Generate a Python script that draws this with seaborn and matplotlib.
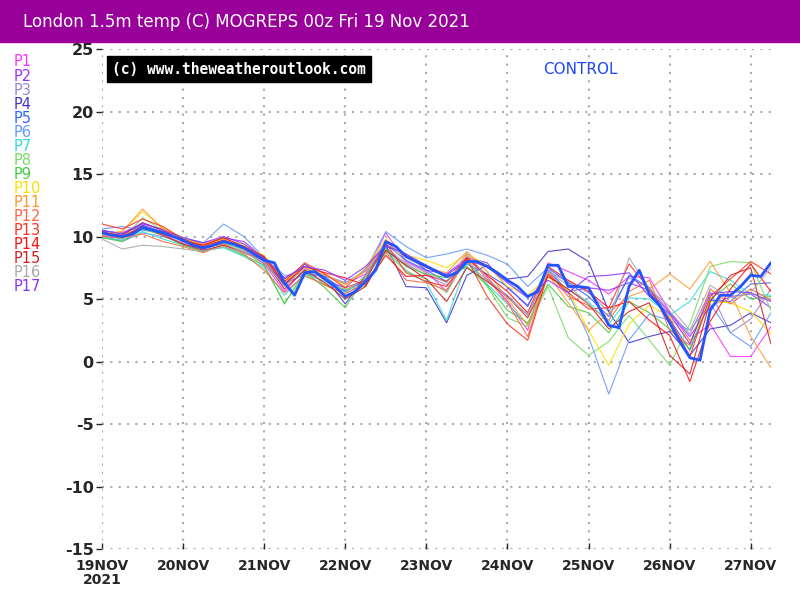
import numpy as np
import pandas as pd
import matplotlib
matplotlib.use("Agg")
import matplotlib.pyplot as plt
import seaborn as sns

# =========================
# DATA (deg C, hours from 19 Nov 00z)
# =========================
member_hours = list(range(0, 199, 6))
control_hours = list(range(0, 199, 3))

day_ticks = [0, 24, 48, 72, 96, 120, 144, 168, 192]
day_labels = ["19NOV\n2021", "20NOV", "21NOV", "22NOV", "23NOV",
              "24NOV", "25NOV", "26NOV", "27NOV"]
y_ticks = [-15, -10, -5, 0, 5, 10, 15, 20, 25]

members = ["P1", "P2", "P3", "P4", "P5", "P6", "P7", "P8", "P9",
           "P10", "P11", "P12", "P13", "P14", "P15", "P16", "P17"]
member_colors = ["#ff33ff", "#9a33ff", "#9988cc", "#4433cc", "#3366ff",
                 "#6699ff", "#33dddd", "#77dd66", "#44cc44", "#ffdd00",
                 "#ff9933", "#ff6644", "#ff3322", "#ff1111", "#cc2222",
                 "#aaaaaa", "#8833ff"]

p1 = [10.1, 9.8, 10.9, 10.2, 9.4, 9.0, 9.8, 8.9, 7.8, 5.6, 7.4, 6.9, 6.2, 7.0, 10.3, 8.0, 7.2, 5.6,
      8.2, 6.8, 4.8, 2.5, 7.9, 7.2, 6.5, 5.4, 6.8, 6.7, 4.0, 1.7, 3.0, 0.4, 0.4, 2.8]
p2 = [10.4, 10.3, 11.0, 10.6, 9.9, 9.4, 9.9, 9.6, 8.3, 6.6, 7.6, 6.5, 5.9, 7.4, 9.2, 8.6, 7.3, 7.0,
      8.3, 7.9, 5.9, 4.5, 7.3, 5.6, 5.9, 5.7, 6.3, 5.7, 3.9, 2.0, 4.4, 5.2, 5.4, 4.3]
p3 = [10.0, 9.6, 10.3, 10.0, 9.5, 9.2, 9.4, 8.8, 7.9, 6.0, 7.6, 6.1, 5.7, 6.6, 9.1, 7.8, 6.9, 6.1,
      7.9, 6.5, 5.3, 3.7, 7.2, 6.4, 5.5, 4.0, 6.7, 5.9, 4.0, 2.2, 5.6, 2.3, 3.4, 5.8]
p4 = [10.2, 9.9, 10.8, 10.3, 9.8, 9.3, 9.7, 9.2, 8.2, 6.1, 7.8, 6.7, 4.6, 6.9, 9.3, 6.0, 5.9, 3.1,
      6.9, 7.7, 6.6, 6.8, 8.8, 9.0, 8.0, 4.0, 1.5, 2.0, 2.4, 0.5, 2.6, 2.9, 3.9, 3.1]
p5 = [10.5, 10.2, 10.9, 10.4, 9.6, 9.0, 9.5, 9.0, 8.0, 6.2, 7.0, 6.8, 5.6, 6.5, 9.4, 8.1, 7.3, 6.4,
      7.8, 7.0, 6.0, 4.4, 7.5, 6.3, 5.2, 3.6, 6.9, 5.9, 3.4, 0.9, 4.9, 4.8, 6.2, 6.3]
p6 = [10.6, 10.8, 10.5, 10.3, 9.9, 9.5, 11.0, 10.0, 8.3, 6.9, 7.0, 6.9, 6.3, 7.3, 10.4, 9.2, 8.3, 8.6,
      9.0, 8.5, 7.8, 6.0, 7.5, 5.5, 2.0, -2.6, 1.7, 3.8, 3.3, 2.5, 4.6, 2.3, 1.2, 3.9]
p7 = [10.0, 9.7, 10.4, 9.8, 9.3, 8.9, 9.1, 8.4, 7.5, 5.3, 7.0, 6.4, 5.5, 6.2, 8.9, 7.3, 6.3, 3.3,
      7.9, 6.2, 4.6, 3.0, 7.0, 5.7, 4.8, 3.0, 5.1, 5.0, 3.7, 4.8, 7.2, 6.5, 5.4, 5.3]
p8 = [10.2, 9.8, 11.5, 10.5, 9.7, 9.1, 9.5, 8.9, 7.6, 4.7, 6.8, 6.2, 5.8, 6.0, 8.7, 7.2, 6.6, 5.5,
      8.3, 6.0, 3.5, 2.8, 6.0, 1.9, 0.5, 1.6, 3.7, 1.7, -0.3, 3.0, 7.6, 8.0, 7.9, 4.1]
p9 = [9.9, 9.6, 10.6, 10.1, 9.3, 8.8, 9.2, 8.5, 7.7, 4.6, 7.2, 5.9, 4.3, 6.8, 9.0, 7.6, 7.0, 6.7,
      7.6, 6.1, 4.1, 3.1, 6.2, 4.4, 3.9, 2.3, 4.8, 3.9, 2.6, 1.0, 5.0, 6.2, 5.0, 5.2]
p10 = [10.2, 10.4, 12.0, 10.7, 9.9, 9.3, 9.8, 9.3, 8.5, 6.5, 7.5, 7.0, 6.0, 7.5, 9.8, 8.5, 8.1, 7.5,
       8.6, 7.7, 6.0, 5.3, 6.8, 5.7, 2.5, -0.3, 3.0, 4.5, 3.6, 1.6, 4.8, 4.7, 4.0, 2.2]
p11 = [10.1, 10.4, 12.2, 10.6, 9.7, 9.4, 9.9, 9.0, 8.1, 6.4, 7.3, 6.9, 6.2, 7.2, 9.6, 8.3, 7.5, 7.1,
       8.8, 7.2, 5.0, 2.9, 7.0, 4.7, 2.5, 3.9, 5.2, 5.8, 7.0, 5.8, 8.0, 5.5, 2.0, -0.5]
p12 = [10.0, 9.9, 10.2, 9.6, 9.2, 8.7, 9.4, 8.6, 7.3, 5.5, 6.9, 6.1, 5.4, 6.3, 8.8, 6.5, 6.3, 5.7,
       8.5, 6.6, 4.7, 2.0, 7.2, 5.2, 4.5, 3.3, 5.6, 6.5, 2.5, 1.3, 5.8, 4.6, 5.8, 4.9]
p13 = [11.0, 10.6, 11.4, 10.8, 9.8, 9.2, 9.7, 9.1, 8.3, 6.4, 7.9, 7.0, 5.9, 6.5, 9.5, 7.1, 6.4, 6.0,
       8.2, 5.2, 3.0, 1.7, 7.0, 5.5, 4.2, 4.3, 7.8, 5.8, 3.4, 0.4, 5.2, 6.6, 8.0, 7.0]
p14 = [10.3, 10.1, 11.1, 10.5, 9.6, 9.3, 9.9, 9.2, 8.4, 6.2, 7.6, 7.1, 6.7, 6.1, 8.5, 6.8, 6.9, 6.4,
       8.3, 6.9, 5.6, 3.9, 7.6, 6.5, 5.6, 4.3, 4.8, 3.3, 2.1, -1.6, 3.2, 5.8, 7.8, 5.6]
p15 = [10.4, 10.0, 10.8, 10.1, 9.4, 8.9, 9.3, 8.7, 8.1, 5.8, 7.3, 6.3, 5.0, 6.0, 8.9, 7.7, 6.6, 4.8,
       7.5, 6.4, 5.2, 3.5, 6.8, 5.8, 4.6, 2.6, 4.0, 4.7, 0.5, -1.0, 4.8, 6.9, 7.5, 1.4]
p16 = [9.8, 9.0, 9.3, 9.2, 9.0, 8.8, 9.2, 8.7, 8.0, 6.0, 7.5, 6.5, 5.5, 6.9, 9.7, 7.9, 7.1, 6.3,
       8.7, 6.7, 5.1, 3.8, 7.2, 6.1, 4.6, 3.2, 8.3, 5.8, 4.4, 2.5, 6.1, 5.1, 5.5, 7.5]
p17 = [10.5, 10.2, 11.1, 10.5, 9.9, 9.5, 10.0, 9.4, 8.3, 6.7, 7.6, 7.3, 6.5, 7.6, 9.3, 8.6, 7.7, 6.9,
       8.1, 7.6, 6.3, 5.1, 6.5, 5.5, 6.8, 6.9, 7.1, 5.2, 3.8, 1.4, 5.4, 5.6, 5.5, 4.8]

control = [10.3, 10.1, 10.0, 10.2, 10.7, 10.5, 10.3, 10.0, 9.7, 9.3, 9.1, 9.3, 9.6, 9.4, 9.1, 8.6,
           8.1, 7.9, 6.3, 5.3, 7.1, 7.2, 6.6, 6.0, 5.2, 5.6, 6.4, 7.3, 9.6, 9.2, 8.4, 8.0,
           7.6, 7.2, 6.8, 7.1, 8.0, 8.0, 7.6, 7.1, 6.5, 6.0, 5.2, 5.6, 7.7, 7.7, 6.0, 6.0,
           5.9, 4.4, 2.9, 2.7, 6.0, 7.3, 5.4, 4.5, 3.1, 1.6, 0.3, 0.1, 4.1, 5.3, 5.3, 6.0,
           6.9, 6.8, 7.9]

member_values = [p1, p2, p3, p4, p5, p6, p7, p8, p9, p10, p11, p12, p13, p14, p15, p16, p17]

# long-form table for seaborn
rows = []
for name, vals in zip(members, member_values):
    for h, v in zip(member_hours, vals):
        rows.append((name, h, v))
df = pd.DataFrame(rows, columns=["member", "hour", "temp"])
df_ctrl = pd.DataFrame({"hour": control_hours, "temp": control})

# =========================
# PLOT
# =========================
sns.set_style("white")
plt.rcParams["font.family"] = ["DejaVu Sans"]

fig = plt.figure(figsize=(8, 6), dpi=100)
ax = fig.add_axes([0.1275, 0.085, 0.9637 - 0.1275, 0.9183 - 0.085])

# purple title bar
fig.patches.append(plt.Rectangle((0, 0.93), 1, 0.07, transform=fig.transFigure,
                                 color="#990099", zorder=0))
fig.text(23 / 800, 1 - 22 / 600, "London 1.5m temp (C) MOGREPS 00z Fri 19 Nov 2021",
         color="white", fontsize=12, va="center", ha="left")

sns.lineplot(data=df, x="hour", y="temp", hue="member", hue_order=members,
             palette=member_colors, linewidth=0.8, alpha=0.9, legend=False, ax=ax)
sns.lineplot(data=df_ctrl, x="hour", y="temp", color="#2255ff",
             linewidth=2.0, ax=ax)

ax.set_xlim(0, 198)
ax.set_ylim(-15, 25)
ax.set_xticks(day_ticks)
ax.set_xticklabels(day_labels, fontsize=10, fontweight="bold", linespacing=1.0)
ax.set_yticks(y_ticks)
ax.set_yticklabels([str(t) for t in y_ticks], fontsize=11.5, fontweight="bold")
ax.set_xlabel("")
ax.set_ylabel("")
ax.grid(True, color="#aaaaaa", linestyle=(0, (1, 3)), linewidth=1.5)
for s in ax.spines.values():
    s.set_visible(False)
ax.tick_params(axis="y", direction="out", length=4, width=1, pad=2, left=True)
ax.tick_params(axis="x", direction="in", length=4, width=1, pad=7, bottom=True)

# watermark and control label
ax.text(0.015, 0.96, "(c) www.theweatheroutlook.com", transform=ax.transAxes,
        color="white", fontsize=10.5, fontweight="bold", family="DejaVu Sans Mono",
        va="center", ha="left",
        bbox=dict(boxstyle="square,pad=0.35", facecolor="black", edgecolor="black"))
ax.text(0.715, 0.96, "CONTROL", transform=ax.transAxes, color="#2244ff",
        fontsize=11, va="center", ha="center")

# member labels on the left
for i, (name, c) in enumerate(zip(members, member_colors)):
    fig.text(14 / 800, 1 - (62 + i * 14.06) / 600, name, color=c,
             fontsize=10.5, va="center", ha="left")

fig.savefig("out.png", dpi=100)
